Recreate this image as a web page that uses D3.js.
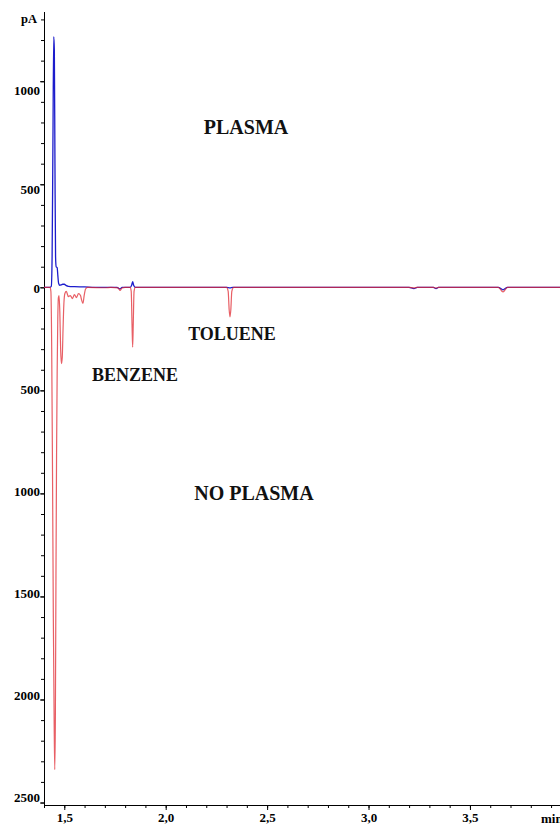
<!DOCTYPE html>
<html>
<head>
<meta charset="utf-8">
<script src="https://cdn.jsdelivr.net/npm/d3@7"></script>
<style>
  body { margin: 0; background: #fff; }
  svg { display: block; }
  text { font-family: "Liberation Serif", "Times New Roman", serif; font-weight: bold; }
</style>
</head>
<body>
<svg></svg>
<script>
// retention time (min) and signal (pA) for the plasma run (blue)
var plasmaTime = [1.400, 1.430, 1.436, 1.440, 1.444, 1.448, 1.451, 1.454, 1.457, 1.460, 1.465, 1.468, 1.472, 1.478, 1.485, 1.492, 1.500, 1.510, 1.520, 1.550, 1.600, 1.650, 1.760, 1.775, 1.785, 1.825, 1.832, 1.837, 1.842, 1.850, 2.300, 2.317, 2.330, 3.200, 3.224, 3.240, 3.320, 3.333, 3.345, 3.640, 3.663, 3.685, 3.944];
var plasmaSignal = [0, 0, 5, 150, 700, 1216, 1150, 600, 150, 100, 95, 60, 20, 10, 12, 15, 15, 8, 5, 3, 2, 0, 0, -8, 0, 0, 10, 28, 10, 0, 0, -3, 0, 0, -6, 0, 0, -6, 0, 0, -12, 0, 0];

// retention time (min) and signal (pA) for the run without plasma (red)
var noPlasmaTime = [1.400, 1.430, 1.434, 1.438, 1.442, 1.446, 1.450, 1.453, 1.456, 1.459, 1.462, 1.465, 1.468, 1.471, 1.474, 1.478, 1.482, 1.486, 1.490, 1.494, 1.498, 1.503, 1.510, 1.520, 1.530, 1.540, 1.550, 1.560, 1.570, 1.580, 1.585, 1.592, 1.598, 1.605, 1.615, 1.700, 1.730, 1.765, 1.775, 1.785, 1.800, 1.825, 1.830, 1.834, 1.837, 1.840, 1.844, 1.850, 2.300, 2.308, 2.313, 2.317, 2.321, 2.326, 2.335, 3.200, 3.224, 3.240, 3.320, 3.333, 3.345, 3.640, 3.663, 3.685, 3.944];
var noPlasmaSignal = [0, 0, -20, -300, -900, -1600, -2100, -2340, -2100, -1400, -800, -400, -150, -50, -40, -120, -300, -370, -340, -200, -80, -30, -20, -45, -40, -55, -35, -50, -30, -40, -60, -78, -40, -8, 0, -2, 0, -3, -15, -3, 0, 0, -20, -180, -290, -180, -20, 0, 0, -20, -110, -143, -110, -20, 0, 0, -3, 0, 0, -4, 0, 0, -22, 0, 0];

// tick labels
var xTickValues = [1.5, 2.0, 2.5, 3.0, 3.5];
var xTickLabels = ["1,5", "2,0", "2,5", "3,0", "3,5"];
var yTickValues = [1000, 500, 0, -500, -1000, -1500, -2000, -2500];
var yTickLabels = ["1000", "500", "0", "500", "1000", "1500", "2000", "2500"];

// text notes on the plot (centre time, baseline signal)
var notes = ["PLASMA", "TOLUENE", "BENZENE", "NO PLASMA"];
var noteTime = [2.396, 2.327, 1.849, 2.435];
var noteSignal = [744, -256, -455, -1032];
var noteSize = [20, 18, 18, 20];

var svgWidth = 560, svgHeight = 827;

var svg = d3.select('svg')
    .attr("width", svgWidth)
    .attr("height", svgHeight);

//scales
var xScale = d3.scaleLinear()
    .domain([1.4, 3.944])
    .range([44, 560]);

var yScale = d3.scaleLinear()
    .domain([-2512, 1336])
    .range([805, 12]);

// the printed labels sit a little off their ticks
var yLabelScale = d3.scaleLinear()
    .domain([1000, 0, -2500])
    .range([91, 288, 797]);

//minor ticks
var x_minor = d3.axisBottom(xScale)
    .tickValues(d3.range(1.4, 3.95, 0.1))
    .tickSize(3)
    .tickFormat("");

var y_minor = d3.axisLeft(yScale)
    .tickValues(d3.range(-2500, 1301, 100))
    .tickSize(3)
    .tickFormat("");

//major ticks with labels
var x_axis = d3.axisBottom(xScale)
    .tickValues(xTickValues)
    .tickSize(5)
    .tickPadding(3)
    .tickFormat(function(d, i) { return xTickLabels[i]; });

var y_axis = d3.axisLeft(yScale)
    .tickValues(yTickValues)
    .tickSize(4)
    .tickPadding(0)
    .tickFormat(function(d, i) { return yTickLabels[i]; });

svg.append("g")
    .attr("transform", "translate(0, 805)")
    .call(x_minor)
    .call(function(g) { g.select(".domain").remove(); });

svg.append("g")
    .attr("transform", "translate(44, 0)")
    .call(y_minor)
    .call(function(g) { g.select(".domain").remove(); });

var gx = svg.append("g")
    .attr("transform", "translate(0, 805)")
    .call(x_axis);

var gy = svg.append("g")
    .attr("transform", "translate(44, 0)")
    .call(y_axis);

gx.select(".domain").attr("d", "M44,0.5H560");
gy.select(".domain").attr("d", "M0.5,12V805");

svg.selectAll(".tick line").attr("stroke", "#000");

gx.selectAll("text")
    .attr("font-size", 13)
    .attr("fill", "#000")
    .attr("font-family", "Liberation Serif, serif")
    .attr("font-weight", "bold");

gy.selectAll("text")
    .attr("font-size", 13)
    .attr("fill", "#000")
    .attr("font-family", "Liberation Serif, serif")
    .attr("font-weight", "bold")
    .attr("dy", function(d) { return (yLabelScale(d) - yScale(d) + 4) + "px"; });

// unit labels
svg.append("text")
    .attr("x", 37)
    .attr("y", yScale(1300) + 4)
    .attr("text-anchor", "end")
    .attr("font-size", 12.5)
    .text("pA");

svg.append("text")
    .attr("x", 541)
    .attr("y", 823)
    .attr("font-size", 13)
    .text("min");

//chromatogram traces
var traceLine = d3.line()
    .x(function(d) { return xScale(d[0]); })
    .y(function(d) { return yScale(d[1]); })
    .curve(d3.curveMonotoneX);

svg.append("path")
    .datum(d3.zip(plasmaTime, plasmaSignal))
    .attr("fill", "none")
    .attr("stroke", "#1c1ccc")
    .attr("stroke-width", 1.3)
    .attr("d", traceLine);

svg.append("path")
    .datum(d3.zip(noPlasmaTime, noPlasmaSignal))
    .attr("fill", "none")
    .attr("stroke", "#e02a32")
    .attr("stroke-opacity", 0.75)
    .attr("stroke-width", 1.2)
    .attr("d", traceLine);

//notes
svg.selectAll(".note")
    .data(notes)
    .enter()
    .append("text")
    .attr("class", "note")
    .attr("x", function(d, i) { return xScale(noteTime[i]); })
    .attr("y", function(d, i) { return yScale(noteSignal[i]); })
    .attr("text-anchor", "middle")
    .attr("font-size", function(d, i) { return noteSize[i]; })
    .attr("fill", "#111")
    .text(function(d) { return d; });
</script>
</body>
</html>
